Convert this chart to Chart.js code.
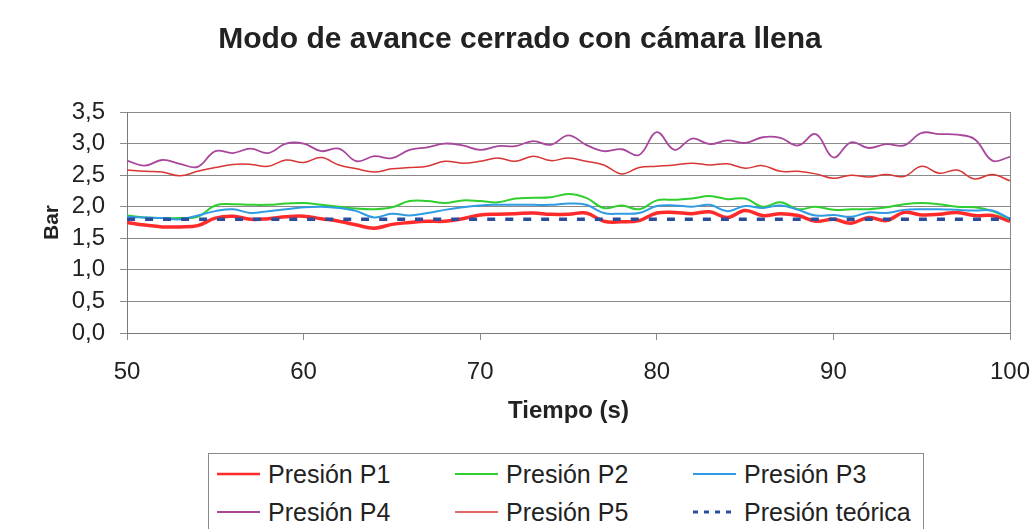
<!DOCTYPE html>
<html><head><meta charset="utf-8">
<script src="https://cdn.jsdelivr.net/npm/chart.js@4.4.1/dist/chart.umd.min.js"></script>
<style>
html,body{margin:0;padding:0;background:#fff;overflow:hidden;}
#wrap{position:relative;width:1035px;height:529px;overflow:hidden;}
canvas{position:absolute;left:0;top:0;}
#legend{position:absolute;left:208px;top:453px;width:714px;height:110px;border:1px solid #8a8a8a;background:#fff;font-family:'Liberation Sans',Arial,sans-serif;font-size:25px;color:#222;}
.item{position:absolute;display:flex;align-items:center;height:30px;white-space:nowrap;}
.item svg{margin-right:8px;}
</style></head>
<body><div id="wrap"><canvas id="c" width="1035" height="529"></canvas><div id="legend"></div></div>
<script>
const chartTitle = 'Modo de avance cerrado con cámara llena';
const xTitle = 'Tiempo (s)';
const yTitle = 'Bar';
const seriesNames = ['Presión P1','Presión P2','Presión P3','Presión P4','Presión P5','Presión teórica'];

const times = [50,51,52,53,54,55,56,57,58,59,60,61,62,63,64,65,66,67,68,69,70,71,72,73,74,75,76,77,78,79,80,81,82,83,84,85,86,87,88,89,90,91,92,93,94,95,96,97,98,99,100];

const p1 = [1.75,1.71,1.68,1.68,1.70,1.82,1.85,1.80,1.81,1.84,1.85,1.81,1.77,1.71,1.66,1.72,1.75,1.77,1.77,1.81,1.87,1.88,1.89,1.90,1.88,1.88,1.90,1.77,1.76,1.78,1.90,1.91,1.89,1.92,1.83,1.94,1.86,1.89,1.86,1.77,1.80,1.74,1.83,1.78,1.91,1.87,1.88,1.91,1.86,1.86,1.77];
const p2 = [1.86,1.83,1.82,1.82,1.84,2.02,2.04,2.03,2.03,2.05,2.06,2.03,2.00,1.97,1.96,1.99,2.09,2.09,2.06,2.10,2.09,2.07,2.13,2.14,2.15,2.20,2.14,1.98,2.02,1.96,2.10,2.11,2.13,2.17,2.12,2.13,2.00,2.07,1.96,2.00,1.95,1.96,1.96,1.99,2.04,2.06,2.04,2.00,1.99,1.93,1.80];
const p3 = [1.84,1.83,1.82,1.80,1.86,1.93,1.96,1.90,1.93,1.96,1.99,2.00,1.98,1.93,1.83,1.89,1.86,1.90,1.95,1.99,2.02,2.03,2.03,2.03,2.03,2.05,2.03,1.90,1.89,1.90,2.01,2.02,2.00,2.03,1.93,2.01,1.98,2.02,1.95,1.86,1.87,1.84,1.91,1.90,1.95,1.96,1.96,1.95,1.94,1.94,1.81];
const p4 = [2.73,2.65,2.74,2.68,2.63,2.88,2.85,2.92,2.85,3.00,3.00,2.88,2.92,2.72,2.80,2.77,2.90,2.94,3.00,2.97,2.90,2.96,2.96,3.04,2.98,3.13,2.98,2.88,2.91,2.82,3.18,2.90,3.08,2.99,3.05,3.01,3.10,3.09,2.97,3.15,2.78,3.02,2.93,2.99,2.97,3.17,3.15,3.14,3.07,2.73,2.79];
const p5 = [2.58,2.56,2.55,2.49,2.56,2.62,2.67,2.67,2.64,2.74,2.70,2.78,2.66,2.60,2.55,2.60,2.62,2.64,2.72,2.69,2.72,2.77,2.72,2.80,2.73,2.77,2.72,2.66,2.52,2.62,2.64,2.66,2.69,2.66,2.68,2.61,2.65,2.56,2.56,2.52,2.45,2.50,2.47,2.51,2.48,2.64,2.53,2.58,2.44,2.51,2.41];
const teoricaTimes = [50,100];
const teorica = [1.80,1.80];

const xTicks = [50,60,70,80,90,100];
const yTicks = [0,0.5,1,1.5,2,2.5,3,3.5];

const colors = ['#ff2b2b','#2fcf2f','#2f9be3','#a8479c','#d93535','#2c4c9c'];
const widths = [3.5,2,2,1.8,1.5,3.5];
const FONT = "'Liberation Sans', Arial, sans-serif";

function pts(xs, ys){ return xs.map((x,i)=>({x:x,y:ys[i]})); }
const seriesData = [pts(times,p1),pts(times,p2),pts(times,p3),pts(times,p4),pts(times,p5),pts(teoricaTimes,teorica)];

const datasets = seriesData.map((d,i)=>({
  label: seriesNames[i],
  data: d,
  borderColor: colors[i],
  backgroundColor: colors[i],
  borderWidth: widths[i],
  pointRadius: 0,
  tension: 0.4,
  fill: false,
  order: 5 - i,
  borderDash: i===5 ? [8,10] : []
}));

new Chart(document.getElementById('c'), {
  type: 'line',
  data: { datasets },
  options: {
    responsive: false,
    animation: false,
    devicePixelRatio: 1,
    layout: { padding: { left: 30, right: 25, top: 0, bottom: 96 } },
    plugins: {
      legend: { display: false },
      tooltip: { enabled: false },
      title: {
        display: true, text: chartTitle, color: '#222',
        font: { family: FONT, size: 30, weight: 'bold' },
        padding: { top: 22, bottom: 54 }
      }
    },
    scales: {
      x: {
        type: 'linear', min: 50, max: 100,
        afterBuildTicks: s => { s.ticks = xTicks.map(v=>({value:v})); },
        afterFit: s => { s.height = 100; s.paddingLeft = 0; s.paddingRight = 0; },
        ticks: { color: '#222', font: { family: FONT, size: 24 }, padding: 18, maxRotation: 0, autoSkip: false },
        grid: {
          drawOnChartArea: true, drawTicks: true, tickLength: 7,
          color: c => (c.tick && c.tick.value === 100) ? '#8a8a8a' : 'rgba(0,0,0,0)',
          tickColor: '#8a8a8a', lineWidth: 1
        },
        border: { display: true, color: '#7a7a7a', width: 1 },
        title: { display: true, text: xTitle, color: '#222', font: { family: FONT, size: 24, weight: 'bold' }, padding: { top: 0, bottom: 7 } }
      },
      y: {
        min: 0, max: 3.5,
        afterBuildTicks: s => { s.ticks = yTicks.map(v=>({value:v})); },
        afterFit: s => { s.width = 97; s.paddingTop = 0; s.paddingBottom = 0; },
        ticks: { color: '#222', font: { family: FONT, size: 24 }, padding: 15, autoSkip: false,
          callback: v => Number(v).toFixed(1).replace('.', ',') },
        grid: { color: '#8a8a8a', tickColor: '#8a8a8a', tickLength: 7, lineWidth: 1 },
        border: { display: true, color: '#7a7a7a', width: 1 },
        title: { display: true, text: yTitle, color: '#222', font: { family: FONT, size: 21, weight: 'bold' }, padding: { top: 10, bottom: 0 } }
      }
    }
  }
});

// HTML legend built from the dataset definitions
const legend = document.getElementById('legend');
const colLeft = [8, 246, 484];
const rowTop = [5, 43];
datasets.forEach((ds,i)=>{
  const item = document.createElement('div');
  item.className = 'item';
  item.style.left = colLeft[i%3] + 'px';
  item.style.top = rowTop[Math.floor(i/3)] + 'px';
  const svgNS = 'http://www.w3.org/2000/svg';
  const svg = document.createElementNS(svgNS,'svg');
  svg.setAttribute('width','43'); svg.setAttribute('height','10');
  const ln = document.createElementNS(svgNS,'line');
  ln.setAttribute('x1','0'); ln.setAttribute('x2','43'); ln.setAttribute('y1','5'); ln.setAttribute('y2','5');
  ln.setAttribute('stroke', ds.borderColor);
  ln.setAttribute('stroke-width', i===5 ? 3 : Math.min(ds.borderWidth, 2.5));
  if (i===5) ln.setAttribute('stroke-dasharray','5,6');
  svg.appendChild(ln);
  item.appendChild(svg);
  const sp = document.createElement('span');
  sp.textContent = ds.label;
  item.appendChild(sp);
  legend.appendChild(item);
});
</script>
</body></html>
